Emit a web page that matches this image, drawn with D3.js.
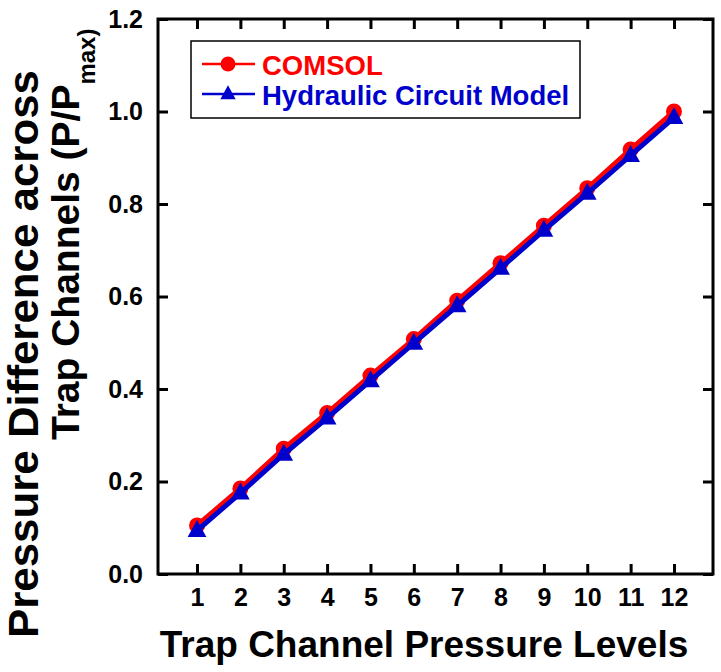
<!DOCTYPE html>
<html>
<head>
<meta charset="utf-8">
<script src="https://cdn.jsdelivr.net/npm/d3@7"></script>
<style>
  html, body { margin: 0; padding: 0; background: #fff; }
  svg { display: block; }
  text { font-family: "Liberation Sans", Arial, sans-serif; font-weight: bold; }
</style>
</head>
<body>
<script>
const levels = [1, 2, 3, 4, 5, 6, 7, 8, 9, 10, 11, 12];
const comsol = [0.105, 0.185, 0.271, 0.348, 0.429, 0.508, 0.591, 0.672, 0.753, 0.834, 0.918, 1.0];
const hydraulic = [0.094, 0.175, 0.259, 0.337, 0.418, 0.499, 0.580, 0.661, 0.743, 0.823, 0.905, 0.987];
const yTicks = [0.0, 0.2, 0.4, 0.6, 0.8, 1.0, 1.2];
const seriesNames = ["COMSOL", "Hydraulic Circuit Model"];
const seriesColors = ["#ff0000", "#0000cc"];

const W = 721, H = 672;
const L = 158, R = 713, T = 19, B = 574;

const svg = d3.select("body").append("svg").attr("width", W).attr("height", H);

const x = d3.scaleLinear().domain([0.1, 12.9]).range([L, R]);
const y = d3.scaleLinear().domain([0, 1.2]).range([B, T]);

const tickLen = 10;
const gB = svg.append("g").attr("transform", `translate(0,${B})`)
  .call(d3.axisBottom(x).tickValues(levels).tickFormat(d3.format("d")).tickSizeInner(-tickLen).tickSizeOuter(0).tickPadding(14));
const gT = svg.append("g").attr("transform", `translate(0,${T})`)
  .call(d3.axisTop(x).tickValues(levels).tickFormat("").tickSizeInner(-tickLen).tickSizeOuter(0));
const gL = svg.append("g").attr("transform", `translate(${L},0)`)
  .call(d3.axisLeft(y).tickValues(yTicks).tickFormat(d3.format(".1f")).tickSizeInner(-tickLen).tickSizeOuter(0).tickPadding(15));
const gR = svg.append("g").attr("transform", `translate(${R},0)`)
  .call(d3.axisRight(y).tickValues(yTicks).tickFormat("").tickSizeInner(-tickLen).tickSizeOuter(0));

[gB, gT, gL, gR].forEach(g => {
  g.select(".domain").remove();
  g.selectAll(".tick line").attr("stroke", "#000").attr("stroke-width", 3);
  g.selectAll(".tick text").attr("fill", "#000").style("font-size", "25px")
    .style("font-family", "'Liberation Sans', Arial, sans-serif").style("font-weight", "bold");
});
gB.selectAll(".tick text").attr("dy", "0.71em");

svg.append("rect").attr("x", L).attr("y", T).attr("width", R - L).attr("height", B - T)
  .attr("fill", "none").attr("stroke", "#000").attr("stroke-width", 3);

const tri = (s) => `M0,${-s * 0.62}L${s * 0.55},${s * 0.38}L${-s * 0.55},${s * 0.38}Z`;
const line = d3.line().x((d, i) => x(levels[i])).y(d => y(d));

svg.append("path").datum(comsol).attr("d", line).attr("fill", "none")
  .attr("stroke", seriesColors[0]).attr("stroke-width", 5);
svg.append("g").selectAll("circle").data(comsol).join("circle")
  .attr("cx", (d, i) => x(levels[i])).attr("cy", d => y(d)).attr("r", 8).attr("fill", seriesColors[0]);

svg.append("path").datum(hydraulic).attr("d", line).attr("fill", "none")
  .attr("stroke", seriesColors[1]).attr("stroke-width", 5);
svg.append("g").selectAll("path.tri").data(hydraulic).join("path").attr("class", "tri")
  .attr("transform", (d, i) => `translate(${x(levels[i])},${y(d)})`)
  .attr("d", tri(17)).attr("fill", seriesColors[1]);

// legend
const lg = svg.append("g");
lg.append("rect").attr("x", 191).attr("y", 41).attr("width", 389).attr("height", 77)
  .attr("fill", "#fff").attr("stroke", "#000").attr("stroke-width", 1.5);
const rowsY = [64, 94];
seriesNames.forEach((name, i) => {
  const yy = rowsY[i];
  lg.append("line").attr("x1", 202).attr("x2", 255).attr("y1", yy).attr("y2", yy)
    .attr("stroke", seriesColors[i]).attr("stroke-width", 2.5);
  if (i === 0) lg.append("circle").attr("cx", 228).attr("cy", yy).attr("r", 7.5).attr("fill", seriesColors[i]);
  else lg.append("path").attr("transform", `translate(228,${yy})`).attr("d", tri(14)).attr("fill", seriesColors[i]);
  lg.append("text").attr("x", 262).attr("y", yy + 11).attr("fill", seriesColors[i])
    .style("font-size", "27.5px").text(name);
});

// x title
svg.append("text").attr("x", 424).attr("y", 657).attr("text-anchor", "middle")
  .style("font-size", "37px").attr("fill", "#000").text("Trap Channel Pressure Levels");

// y title (two lines, rotated)
svg.append("text").attr("transform", "translate(38,354) rotate(-90)").attr("text-anchor", "middle")
  .attr("textLength", 568).attr("lengthAdjust", "spacingAndGlyphs")
  .style("font-size", "43px").attr("fill", "#000").text("Pressure Difference across");
const t2 = svg.append("text").attr("transform", "translate(79,440) rotate(-90)").attr("text-anchor", "start")
  .style("font-size", "39px").attr("fill", "#000");
t2.append("tspan").text("Trap Channels (P/P");
t2.append("tspan").attr("dy", 16).style("font-size", "24px").text("max)");
</script>
</body>
</html>
